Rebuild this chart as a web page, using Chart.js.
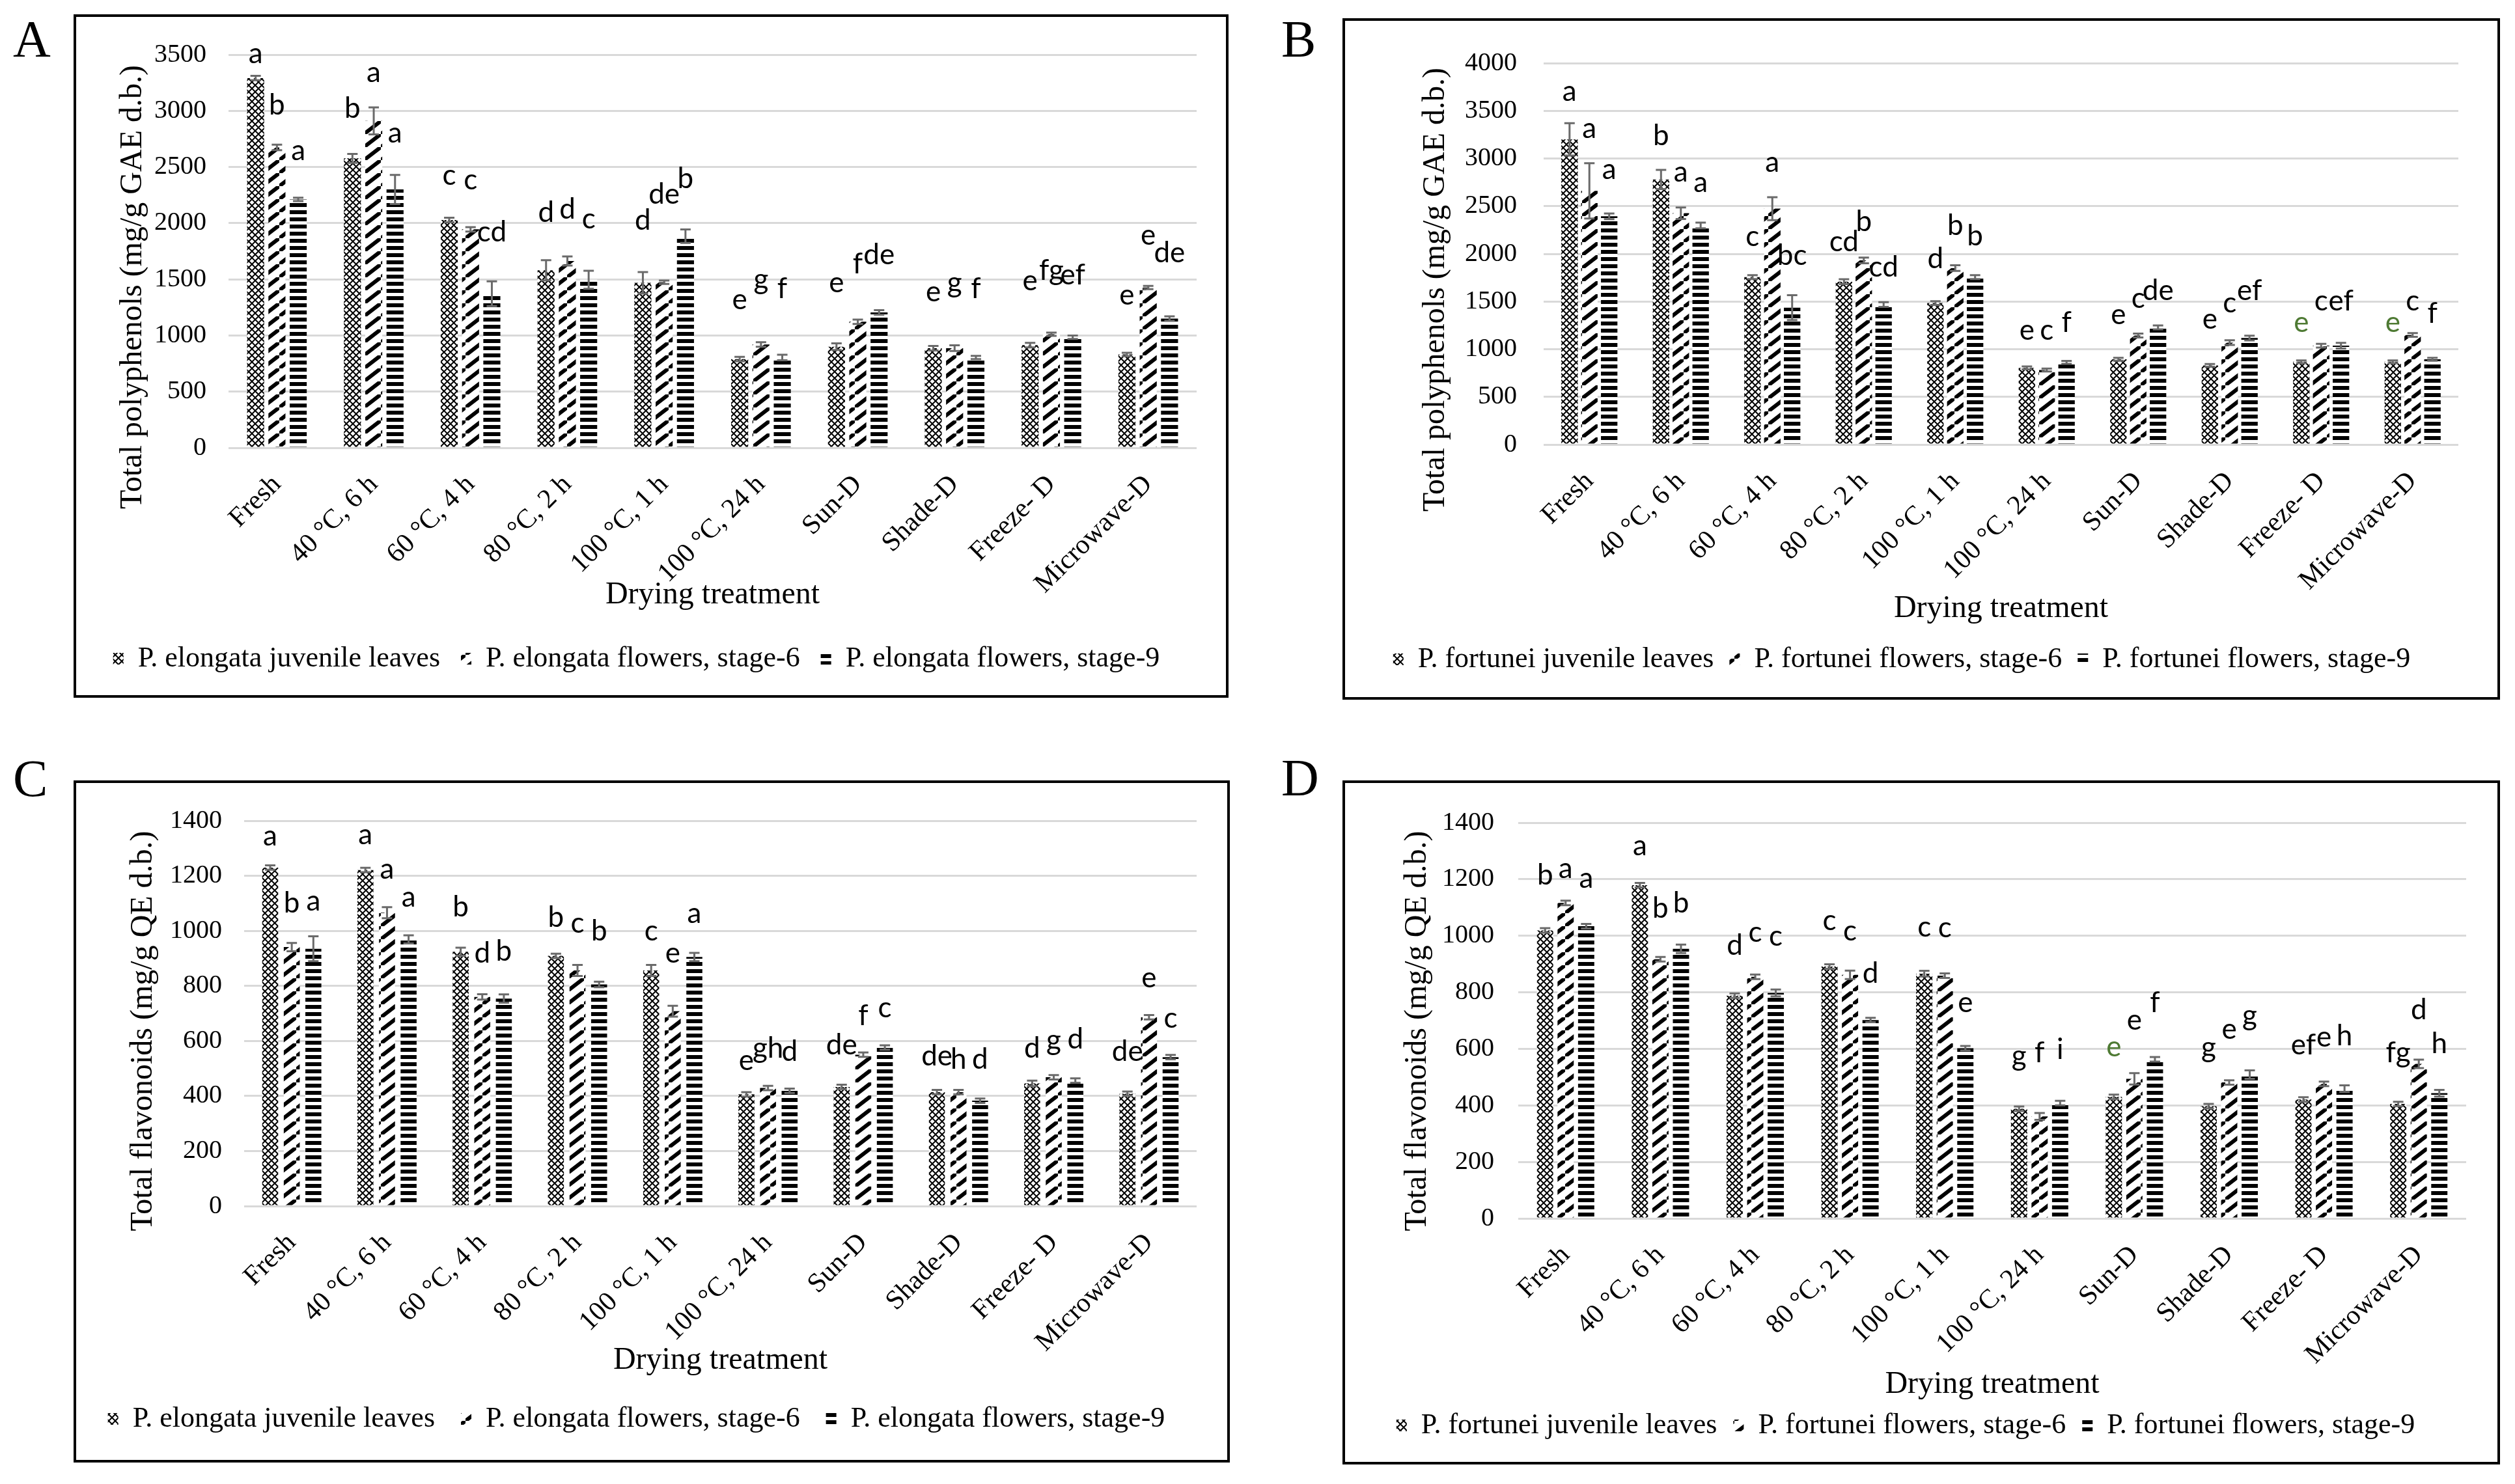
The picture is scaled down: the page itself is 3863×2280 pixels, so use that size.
<!DOCTYPE html>
<html>
<head>
<meta charset="utf-8">
<script src="https://cdn.jsdelivr.net/npm/chart.js@4.4.1/dist/chart.umd.min.js"></script>
<style>
html, body { margin: 0; padding: 0; background: #fff; }
body { width: 3863px; height: 2280px; position: relative; overflow: hidden; }
.panel { position: absolute; border: 4px solid #000; box-sizing: border-box; background: #fff; }
.panel canvas { display: block; }
.tag { position: absolute; font-family: "Liberation Serif", "Times New Roman", serif; font-size: 80px; line-height: 80px; color: #000; }
</style>
</head>
<body>
<div class="tag" style="left:20px;top:20px">A</div>
<div class="tag" style="left:1968px;top:20px">B</div>
<div class="tag" style="left:20px;top:1156px">C</div>
<div class="tag" style="left:1968px;top:1155px">D</div>

<div class="panel" style="left:113px;top:22px;width:1774px;height:1050px"><canvas id="chartA" width="1766" height="1042"></canvas></div>
<div class="panel" style="left:2062px;top:28px;width:1778px;height:1047px"><canvas id="chartB" width="1770" height="1039"></canvas></div>
<div class="panel" style="left:113px;top:1199px;width:1776px;height:1048px"><canvas id="chartC" width="1768" height="1040"></canvas></div>
<div class="panel" style="left:2062px;top:1199px;width:1778px;height:1051px"><canvas id="chartD" width="1770" height="1043"></canvas></div>

<script>
// categorie (trattamenti di essiccazione)
const treatments = ['Fresh', '40 °C, 6 h', '60 °C, 4 h', '80 °C, 2 h', '100 °C, 1 h',
                    '100 °C, 24 h', 'Sun-D', 'Shade-D', 'Freeze- D', 'Microwave-D'];

const elongataNames = ['P. elongata juvenile leaves', 'P. elongata flowers, stage-6', 'P. elongata flowers, stage-9'];
const fortuneiNames = ['P. fortunei juvenile leaves', 'P. fortunei flowers, stage-6', 'P. fortunei flowers, stage-9'];

// A - polifenoli totali, P. elongata
const tpcElongataLeaves = [3292, 2577, 2028, 1580, 1469, 790, 900, 887, 914, 831];
const tpcElongataStage6 = [2674, 2910, 1945, 1663, 1474, 920, 1122, 887, 1011, 1427];
const tpcElongataStage9 = [2211, 2300, 1372, 1496, 1884, 804, 1205, 804, 984, 1150];
const tpcElongataErrLeaves = [20, 40, 20, 90, 95, 20, 30, 20, 20, 15];
const tpcElongataErrStage6 = [25, 120, 20, 40, 15, 20, 20, 25, 15, 15];
const tpcElongataErrStage9 = [15, 130, 110, 80, 60, 25, 20, 15, 15, 20];
const tpcElongataLetters = [
  ['a', 'b', 'c', 'd', 'd', 'e', 'e', 'e', 'e', 'e'],
  ['b', 'a', 'c', 'd', 'de', 'g', 'f', 'g', 'fg', 'e'],
  ['a', 'a', 'cd', 'c', 'b', 'f', 'de', 'f', 'ef', 'de']
];
const tpcElongataLetterY = [
  [3505, 3020, 2425, 2092, 2023, 1316, 1469, 1386, 1482, 1358],
  [3048, 3339, 2383, 2120, 2258, 1496, 1635, 1469, 1580, 1890],
  [2646, 2799, 1917, 2037, 2397, 1413, 1718, 1413, 1538, 1732]
];

// B - polifenoli totali, P. fortunei
const tpcFortuneiLeaves = [3200, 2780, 1756, 1708, 1484, 804, 894, 830, 868, 868];
const tpcFortuneiStage6 = [2660, 2426, 2474, 1931, 1851, 782, 1143, 1069, 1037, 1149];
const tpcFortuneiStage9 = [2394, 2298, 1436, 1468, 1756, 862, 1229, 1117, 1037, 894];
const tpcFortuneiErrLeaves = [170, 100, 20, 25, 20, 15, 15, 15, 15, 15];
const tpcFortuneiErrStage6 = [290, 60, 120, 30, 30, 15, 20, 25, 20, 20];
const tpcFortuneiErrStage9 = [30, 30, 130, 25, 20, 15, 20, 25, 30, 15];
const tpcFortuneiLetters = [
  ['a', 'b', 'c', 'cd', 'd', 'e', 'e', 'e', 'e', 'e'],
  ['a', 'a', 'a', 'b', 'b', 'c', 'c', 'c', 'c', 'c'],
  ['a', 'a', 'bc', 'cd', 'b', 'f', 'de', 'ef', 'ef', 'f']
];
const tpcFortuneiLetterY = [
  [3703, 3240, 2177, 2123, 1947, 1197, 1357, 1309, 1277, 1277],
  [3313, 2857, 2959, 2337, 2298, 1197, 1532, 1484, 1500, 1500],
  [2879, 2745, 1979, 1858, 2187, 1277, 1612, 1612, 1500, 1373]
];
const tpcFortuneiGreen = [[0, 8], [0, 9]];

// C - flavonoidi totali, P. elongata
const tfcElongataLeaves = [1230, 1221, 924, 909, 856, 406, 433, 414, 446, 408];
const tfcElongataStage6 = [941, 1066, 760, 856, 708, 429, 550, 414, 468, 686];
const tfcElongataStage9 = [935, 969, 754, 805, 905, 419, 576, 383, 456, 541];
const tfcElongataErrLeaves = [8, 8, 15, 8, 20, 8, 8, 8, 10, 8];
const tfcElongataErrStage6 = [15, 20, 10, 20, 20, 8, 8, 8, 8, 8];
const tfcElongataErrStage9 = [45, 15, 15, 10, 15, 8, 8, 8, 8, 8];
const tfcElongataLetters = [
  ['a', 'a', 'b', 'b', 'c', 'e', 'de', 'de', 'd', 'de'],
  ['b', 'a', 'd', 'c', 'e', 'gh', 'f', 'h', 'g', 'e'],
  ['a', 'a', 'b', 'b', 'a', 'd', 'c', 'd', 'd', 'c']
];
const tfcElongataLetterY = [
  [1343, 1349, 1086, 1049, 998, 527, 584, 544, 572, 561],
  [1100, 1224, 918, 1026, 918, 572, 692, 533, 601, 828],
  [1108, 1122, 924, 998, 1062, 561, 720, 533, 606, 682]
];

// D - flavonoidi totali, P. fortunei
const tfcFortuneiLeaves = [1019, 1179, 788, 891, 866, 388, 430, 397, 421, 405];
const tfcFortuneiStage6 = [1116, 917, 855, 862, 859, 361, 494, 481, 476, 547];
const tfcFortuneiStage9 = [1034, 954, 798, 702, 602, 408, 563, 509, 459, 443];
const tfcFortuneiErrLeaves = [8, 8, 8, 8, 10, 8, 8, 8, 8, 8];
const tfcFortuneiErrStage6 = [8, 8, 8, 15, 8, 12, 20, 8, 8, 15];
const tfcFortuneiErrStage9 = [8, 15, 12, 8, 8, 8, 8, 15, 12, 12];
const tfcFortuneiLetters = [
  ['b', 'a', 'd', 'c', 'c', 'g', 'e', 'g', 'ef', 'fg'],
  ['a', 'b', 'c', 'c', 'c', 'f', 'e', 'e', 'e', 'd'],
  ['a', 'b', 'c', 'd', 'e', 'i', 'f', 'g', 'h', 'h']
];
const tfcFortuneiLetterY = [
  [1214, 1318, 965, 1052, 1030, 574, 607, 604, 613, 585],
  [1236, 1096, 1012, 1017, 1028, 585, 700, 669, 640, 738],
  [1203, 1116, 998, 866, 763, 596, 763, 716, 645, 618]
];
const tfcFortuneiGreen = [[0, 6]];

const SERIF = '"Liberation Serif", "Times New Roman", serif';

// pattern di riempimento delle barre
function checkerPattern() {
  const c = document.createElement('canvas');
  c.width = 10; c.height = 10;
  const g = c.getContext('2d');
  g.fillStyle = '#fff'; g.fillRect(0, 0, 10, 10);
  g.strokeStyle = '#000'; g.lineWidth = 2;
  g.beginPath();
  g.moveTo(0, 0); g.lineTo(10, 10);
  g.moveTo(10, 0); g.lineTo(0, 10);
  g.stroke();
  return g.createPattern(c, 'repeat');
}

function slashPattern() {
  const c = document.createElement('canvas');
  c.width = 26; c.height = 20;
  const g = c.getContext('2d');
  g.fillStyle = '#fff'; g.fillRect(0, 0, 26, 20);
  g.strokeStyle = '#000'; g.lineWidth = 6;
  g.beginPath(); g.moveTo(0, 20); g.lineTo(26, 0); g.stroke();
  return g.createPattern(c, 'repeat');
}

function dashPattern() {
  const c = document.createElement('canvas');
  c.width = 8; c.height = 11;
  const g = c.getContext('2d');
  g.fillStyle = '#fff'; g.fillRect(0, 0, 8, 11);
  g.fillStyle = '#000'; g.fillRect(0, 0, 8, 6);
  return g.createPattern(c, 'repeat');
}

const fills = [checkerPattern(), slashPattern(), dashPattern()];

// titolo asse y, barre d'errore e lettere di significatività
const yTitlePlugin = {
  id: 'yTitle',
  afterDraw(chart, args, opts) {
    const ctx = chart.ctx;
    ctx.save();
    ctx.translate(opts.x, opts.y);
    ctx.rotate(-Math.PI / 2);
    ctx.font = '48px ' + SERIF;
    ctx.fillStyle = '#000';
    ctx.textAlign = 'center';
    ctx.textBaseline = 'middle';
    ctx.fillText(opts.text, 0, 0);
    ctx.restore();
  }
};

const marksPlugin = {
  id: 'marks',
  afterDatasetsDraw(chart, args, opts) {
    const ctx = chart.ctx;
    const y = chart.scales.y;
    ctx.save();
    chart.data.datasets.forEach((ds, i) => {
      chart.getDatasetMeta(i).data.forEach((bar, j) => {
        const v = ds.data[j], e = opts.errors[i][j];
        const yt = y.getPixelForValue(v + e), yb = y.getPixelForValue(v - e);
        ctx.strokeStyle = '#6a6a6a';
        ctx.lineWidth = 3;
        ctx.beginPath();
        ctx.moveTo(bar.x, yt); ctx.lineTo(bar.x, yb);
        ctx.moveTo(bar.x - 8, yt); ctx.lineTo(bar.x + 8, yt);
        ctx.moveTo(bar.x - 8, yb); ctx.lineTo(bar.x + 8, yb);
        ctx.stroke();

        const green = (opts.green || []).some(p => p[0] === i && p[1] === j);
        ctx.fillStyle = green ? '#4e7a33' : '#000';
        ctx.font = '44px Lato, "Open Sans", sans-serif';
        ctx.textAlign = 'center';
        ctx.textBaseline = 'middle';
        ctx.fillText(opts.letters[i][j], bar.x, y.getPixelForValue(opts.letterY[i][j]));
      });
    });
    ctx.restore();
  }
};

function buildPanel(p) {
  const canvas = document.getElementById(p.canvas);
  const W = canvas.width, H = canvas.height;
  const legendFont = 44, titleFont = 48;
  const bottomPad = H - 10 - legendFont / 2 - p.legendY;
  const legendTop = H - bottomPad - (legendFont + p.legendGap + 10);
  const xHeight = legendTop - p.plot.bottom;
  const xTitlePad = legendTop - p.xTitleY - titleFont * 1.2 / 2;

  new Chart(canvas, {
    type: 'bar',
    data: {
      labels: treatments,
      datasets: p.series.map((s, i) => ({
        label: p.names[i],
        data: s,
        backgroundColor: fills[i],
        borderWidth: 0,
        categoryPercentage: p.catPct,
        barPercentage: p.barPct
      }))
    },
    options: {
      responsive: false,
      animation: false,
      layout: { padding: { left: 0, top: p.plot.top, right: W - p.plot.right, bottom: bottomPad } },
      plugins: {
        legend: {
          position: 'bottom',
          labels: {
            color: '#000',
            font: { family: SERIF, size: legendFont },
            boxWidth: 16,
            boxHeight: 18,
            padding: p.legendGap
          }
        },
        tooltip: { enabled: false },
        yTitle: { text: p.yTitle, x: p.yTitleX, y: p.yTitleY },
        marks: { errors: p.errors, letters: p.letters, letterY: p.letterY, green: p.green }
      },
      scales: {
        x: {
          grid: { display: false },
          border: { display: false },
          ticks: {
            color: '#000',
            font: { family: SERIF, size: 42 },
            maxRotation: 45,
            minRotation: 45,
            autoSkip: false,
            padding: 24
          },
          title: {
            display: true,
            text: 'Drying treatment',
            color: '#000',
            font: { family: SERIF, size: titleFont },
            padding: { top: 0, bottom: xTitlePad }
          },
          afterFit: s => { s.height = xHeight; }
        },
        y: {
          min: 0,
          max: p.yMax,
          grid: { color: '#d9d9d9', lineWidth: 3, drawTicks: false },
          border: { display: false },
          ticks: {
            stepSize: p.yStep,
            color: '#000',
            font: { family: SERIF, size: 40 },
            padding: p.tickPad,
            callback: v => String(v)
          },
          afterFit: s => { s.width = p.plot.left; }
        }
      }
    },
    plugins: [yTitlePlugin, marksPlugin]
  });
}

buildPanel({
  canvas: 'chartA', names: elongataNames,
  series: [tpcElongataLeaves, tpcElongataStage6, tpcElongataStage9],
  errors: [tpcElongataErrLeaves, tpcElongataErrStage6, tpcElongataErrStage9],
  letters: tpcElongataLetters, letterY: tpcElongataLetterY,
  yMax: 3500, yStep: 500, yTitle: 'Total polyphenols (mg/g GAE d.b.)',
  plot: { left: 234, right: 1721, top: 50, bottom: 662 },
  tickPad: 34, yTitleX: 87, yTitleY: 415, xTitleY: 888, legendY: 986, legendGap: 32,
  catPct: 0.66, barPct: 0.8
});

buildPanel({
  canvas: 'chartB', names: fortuneiNames,
  series: [tpcFortuneiLeaves, tpcFortuneiStage6, tpcFortuneiStage9],
  errors: [tpcFortuneiErrLeaves, tpcFortuneiErrStage6, tpcFortuneiErrStage9],
  letters: tpcFortuneiLetters, letterY: tpcFortuneiLetterY, green: tpcFortuneiGreen,
  yMax: 4000, yStep: 500, yTitle: 'Total polyphenols (mg/g GAE d.b.)',
  plot: { left: 305, right: 1710, top: 44, bottom: 651 },
  tickPad: 41, yTitleX: 139, yTitleY: 413, xTitleY: 903, legendY: 981, legendGap: 24,
  catPct: 0.65, barPct: 0.83
});

buildPanel({
  canvas: 'chartC', names: elongataNames,
  series: [tfcElongataLeaves, tfcElongataStage6, tfcElongataStage9],
  errors: [tfcElongataErrLeaves, tfcElongataErrStage6, tfcElongataErrStage9],
  letters: tfcElongataLetters, letterY: tfcElongataLetterY,
  yMax: 1400, yStep: 200, yTitle: 'Total flavonoids (mg/g QE d.b.)',
  plot: { left: 258, right: 1721, top: 51, bottom: 650 },
  tickPad: 34, yTitleX: 103, yTitleY: 381, xTitleY: 887, legendY: 977, legendGap: 40,
  catPct: 0.68, barPct: 0.74
});

buildPanel({
  canvas: 'chartD', names: fortuneiNames,
  series: [tfcFortuneiLeaves, tfcFortuneiStage6, tfcFortuneiStage9],
  errors: [tfcFortuneiErrLeaves, tfcFortuneiErrStage6, tfcFortuneiErrStage9],
  letters: tfcFortuneiLetters, letterY: tfcFortuneiLetterY, green: tfcFortuneiGreen,
  yMax: 1400, yStep: 200, yTitle: 'Total flavonoids (mg/g QE d.b.)',
  plot: { left: 266, right: 1722, top: 49, bottom: 669 },
  tickPad: 37, yTitleX: 111, yTitleY: 381, xTitleY: 924, legendY: 987, legendGap: 25,
  catPct: 0.65, barPct: 0.79
});
</script>
</body>
</html>
